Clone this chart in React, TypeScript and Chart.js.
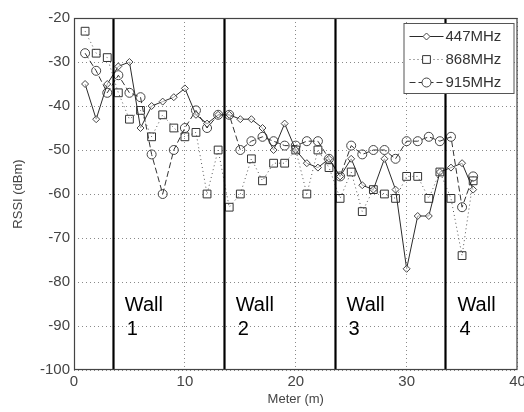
import { useEffect, useRef } from "react";
import { Chart, registerables } from "chart.js";

Chart.register(...registerables);

const meters = [1, 2, 3, 4, 5, 6, 7, 8, 9, 10, 11, 12, 13, 14, 15, 16, 17, 18, 19, 20, 21, 22, 23, 24, 25, 26, 27, 28, 29, 30, 31, 32, 33, 34, 35, 36];
const rssi447 = [-35, -43, -35, -31, -30, -45, -40, -39, -38, -36, -42, -44, -42, -42, -43, -43, -45, -50, -44, -50, -53, -54, -52, -56, -52, -58, -59, -52, -59, -77, -65, -65, -55, -54, -53, -59];
const rssi868 = [-23, -28, -29, -37, -43, -41, -47, -42, -45, -47, -46, -60, -50, -63, -60, -52, -57, -53, -53, -50, -60, -50, -54, -61, -55, -64, -59, -60, -61, -56, -56, -61, -55, -61, -74, -57];
const rssi915 = [-28, -32, -37, -33, -37, -38, -51, -60, -50, -45, -41, -45, -42, -42, -50, -48, -47, -48, -49, -49, -48, -48, -52, -56, -49, -51, -50, -50, -52, -48, -48, -47, -48, -47, -63, -56];
const seriesNames = ["447MHz", "868MHz", "915MHz"];
const xTickValues = [0, 10, 20, 30, 40];
const yTickValues = [-20, -30, -40, -50, -60, -70, -80, -90, -100];
const wallPositions = [3.5, 13.5, 23.5, 33.5];
const wallNames = ["1", "2", "3", "4"];
const wallWord = "Wall";
const xTitle = "Meter (m)";
const yTitle = "RSSI (dBm)";

const FONT = "'Liberation Sans', Arial, Helvetica, sans-serif";

const toPoints = (ys: number[]) => meters.map((m, i) => ({ x: m, y: ys[i] }));

function drawMarker(ctx: CanvasRenderingContext2D, style: string, r: number, x: number, y: number) {
  ctx.beginPath();
  if (style === "circle") {
    ctx.arc(x, y, r, 0, Math.PI * 2);
  } else if (style === "rect") {
    const s = Math.SQRT1_2 * r;
    ctx.rect(x - s, y - s, 2 * s, 2 * s);
  } else {
    ctx.moveTo(x, y - r);
    ctx.lineTo(x + r, y);
    ctx.lineTo(x, y + r);
    ctx.lineTo(x - r, y);
    ctx.closePath();
  }
  ctx.fill();
  ctx.stroke();
}

const wallsPlugin = {
  id: "walls",
  afterDatasetsDraw(chart: any) {
    const { ctx, chartArea, scales } = chart;
    const xs = scales.x;
    const ys = scales.y;
    ctx.save();
    ctx.strokeStyle = "#000000";
    ctx.lineWidth = 2.2;
    wallPositions.forEach((w) => {
      const px = Math.round(xs.getPixelForValue(w)) + 0.5;
      ctx.beginPath();
      ctx.moveTo(px, chartArea.top);
      ctx.lineTo(px, chartArea.bottom);
      ctx.stroke();
    });
    ctx.fillStyle = "#000000";
    ctx.font = `20px ${FONT}`;
    ctx.textAlign = "left";
    ctx.textBaseline = "middle";
    wallPositions.forEach((w, i) => {
      const px = xs.getPixelForValue(w) + 12;
      ctx.fillText(wallWord, px, ys.getPixelForValue(-85.4));
      ctx.fillText(wallNames[i], px + 2, ys.getPixelForValue(-90.9));
    });
    ctx.strokeStyle = "#444444";
    ctx.lineWidth = 1.2;
    ctx.strokeRect(chartArea.left + 0.5, chartArea.top + 0.5, chartArea.right - chartArea.left - 1, chartArea.bottom - chartArea.top - 1);
    ctx.restore();
  },
};

const legendPlugin = {
  id: "legendBox",
  afterDraw(chart: any) {
    const { ctx, chartArea } = chart;
    const bx = chartArea.right - 114;
    const by = chartArea.top + 5;
    const bw = 110;
    const bh = 70;
    ctx.save();
    ctx.fillStyle = "#ffffff";
    ctx.fillRect(bx, by, bw, bh);
    ctx.strokeStyle = "#555555";
    ctx.lineWidth = 1;
    ctx.strokeRect(bx + 0.5, by + 0.5, bw, bh);
    chart.data.datasets.forEach((ds: any, i: number) => {
      const cy = Math.round(by + 13 + i * 23) + 0.5;
      ctx.strokeStyle = ds.borderColor;
      ctx.lineWidth = 1;
      ctx.setLineDash(ds.borderDash || []);
      ctx.beginPath();
      ctx.moveTo(bx + 6, cy);
      ctx.lineTo(bx + 40, cy);
      ctx.stroke();
      ctx.setLineDash([]);
      ctx.fillStyle = "#ffffff";
      ctx.strokeStyle = ds.pointBorderColor;
      drawMarker(ctx, ds.pointStyle, ds.pointRadius, bx + 23, cy);
      ctx.fillStyle = "#333333";
      ctx.font = `15px ${FONT}`;
      ctx.textAlign = "left";
      ctx.textBaseline = "middle";
      ctx.fillText(seriesNames[i], bx + 42, cy + 0.5);
    });
    ctx.restore();
  },
};

export default function App() {
  const ref = useRef<HTMLCanvasElement | null>(null);
  useEffect(() => {
    if (!ref.current) return;
    const chart = new Chart(ref.current, {
      type: "line",
      data: {
        datasets: [
          {
            label: seriesNames[0],
            data: toPoints(rssi447),
            borderColor: "#2a2a2a",
            borderWidth: 1,
            pointStyle: "rectRot",
            pointRadius: 3.5,
            pointBackgroundColor: "rgba(255,255,255,0.6)",
            pointBorderColor: "#444444",
            pointBorderWidth: 1,
            tension: 0,
          },
          {
            label: seriesNames[1],
            data: toPoints(rssi868),
            borderColor: "#555555",
            borderWidth: 1,
            borderDash: [1, 3],
            pointStyle: "rect",
            pointRadius: 5.5,
            pointBackgroundColor: "rgba(255,255,255,0)",
            pointBorderColor: "#333333",
            pointBorderWidth: 1,
            tension: 0,
          },
          {
            label: seriesNames[2],
            data: toPoints(rssi915),
            borderColor: "#333333",
            borderWidth: 1,
            borderDash: [6, 3],
            pointStyle: "circle",
            pointRadius: 4.5,
            pointBackgroundColor: "rgba(255,255,255,0)",
            pointBorderColor: "#444444",
            pointBorderWidth: 1,
            tension: 0,
          },
        ],
      } as any,
      options: {
        animation: false,
        responsive: false,
        maintainAspectRatio: false,
        layout: { padding: { top: 18, right: 3, left: 0, bottom: 0 } },
        plugins: {
          legend: { display: false },
          tooltip: { enabled: false },
        },
        scales: {
          x: {
            type: "linear",
            min: 0,
            max: 40,
            afterBuildTicks: (s: any) => {
              s.ticks = xTickValues.map((v) => ({ value: v }));
            },
            afterFit: (s: any) => {
              s.height = 42;
              s.paddingLeft = 0;
              s.paddingRight = 0;
            },
            grid: { color: "#8a8a8a", lineWidth: 1, drawTicks: false },
            border: { display: false, dash: [1, 3] },
            ticks: {
              padding: 3,
              color: "#444444",
              font: { family: FONT, size: 15 },
              autoSkip: false,
              maxRotation: 0,
            },
            title: {
              display: true,
              text: xTitle,
              color: "#444444",
              font: { family: FONT, size: 13 },
              padding: { top: 0, bottom: 5 },
            },
          },
          y: {
            type: "linear",
            min: -100,
            max: -20,
            afterBuildTicks: (s: any) => {
              s.ticks = yTickValues.map((v) => ({ value: v }));
            },
            afterFit: (s: any) => {
              s.width = 74;
              s.paddingTop = 0;
              s.paddingBottom = 0;
            },
            grid: { color: "#8a8a8a", lineWidth: 1, drawTicks: false },
            border: { display: false, dash: [1, 3] },
            ticks: {
              padding: 4,
              color: "#444444",
              font: { family: FONT, size: 15 },
              autoSkip: false,
            },
            title: {
              display: true,
              text: yTitle,
              color: "#444444",
              font: { family: FONT, size: 13 },
              padding: { top: 11, bottom: 0 },
            },
          },
        },
      } as any,
      plugins: [wallsPlugin, legendPlugin],
    });
    return () => chart.destroy();
  }, []);
  return (
    <div style={{ position: "absolute", left: 0, top: 0, width: 524, height: 412, background: "#ffffff" }}>
      <canvas ref={ref} width={524} height={412} style={{ width: 524, height: 412, display: "block" }} />
    </div>
  );
}
